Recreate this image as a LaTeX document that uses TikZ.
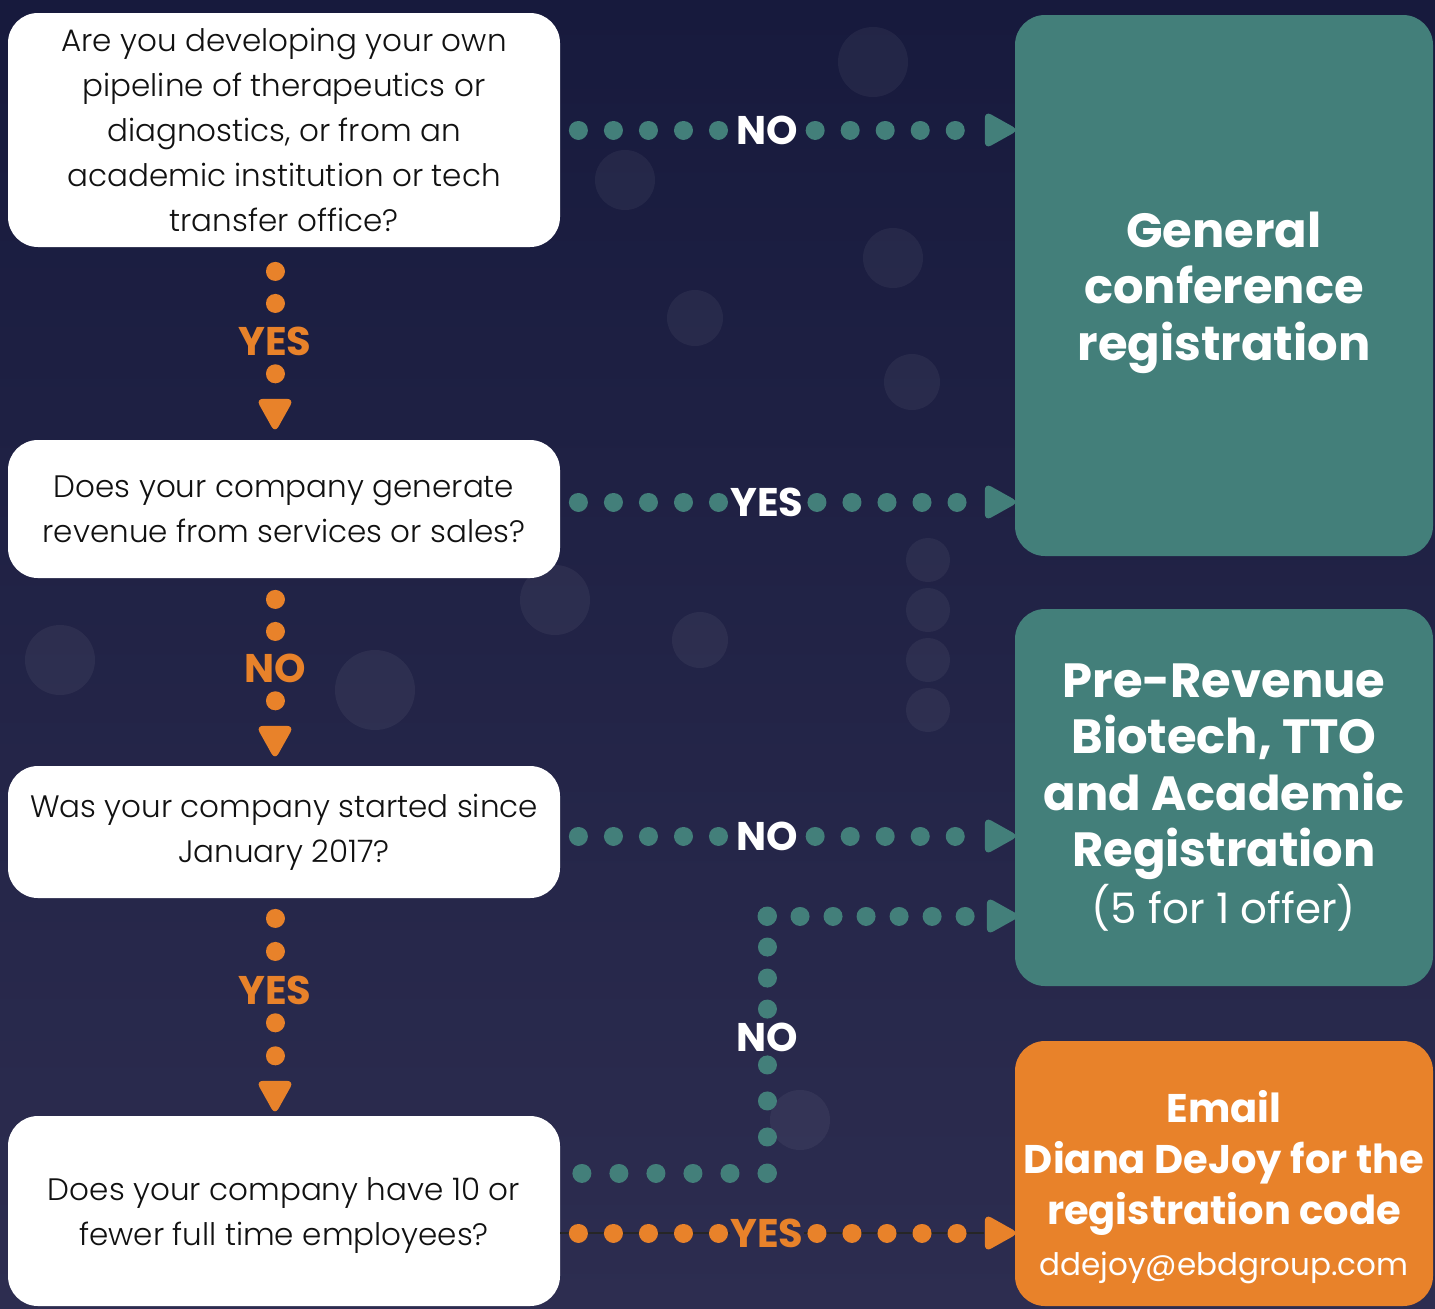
\documentclass[tikz,border=0pt]{standalone}
\usepackage{fontspec}
\setmainfont{Poppins}
\IfFontExistsTF{Poppins Light}{\newfontfamily\qfont{Poppins Light}}{\newfontfamily\qfont{Poppins}}
\usetikzlibrary{shapes.geometric}
\definecolor{navytop}{HTML}{171A3D}
\definecolor{navybot}{HTML}{2D2D50}
\definecolor{tealbox}{HTML}{437F7A}
\definecolor{orangebox}{HTML}{E8822A}
\definecolor{qtext}{HTML}{111111}

\tikzset{
  qbox/.style={fill=white, rounded corners=15pt, minimum width=276pt, inner sep=0pt,
    align=center, text=qtext, font=\qfont\fontsize{15.5}{22.5}\selectfont},
  regbox/.style={fill=tealbox, rounded corners=15pt, minimum width=209pt, inner sep=0pt,
    align=center, text=white, font=\bfseries\fontsize{24}{28.25}\selectfont},
  dotlabel/.style={inner sep=0pt, font=\bfseries\fontsize{20}{20}\selectfont},
  tealdots/.style={tealbox, line width=9.5pt, line cap=round, dash pattern=on 0.01pt off 17.5pt},
  orangedots/.style={orangebox, line width=9.5pt, line cap=round, dash pattern=on 0.01pt off 16pt},
  tiptri/.style={isosceles triangle, isosceles triangle stretches, minimum width=19pt,
    minimum height=17pt, inner sep=0pt, rounded corners=3.5pt},
  bokeh/.style={fill=white, opacity=0.05}
}

\begin{document}
\begin{tikzpicture}[x=0.5pt, y=-0.5pt]
    \useasboundingbox (0,0) rectangle (1435,1308);
    % Background
    \shade[top color=navytop, bottom color=navybot] (0,0) rectangle (1435,1308);
    \foreach \bx/\by/\br in {625/180/30, 695/318/28, 893/258/30, 912/382/28, 873/62/35,
        555/600/35, 375/690/40, 700/640/28, 928/560/22, 928/610/22, 928/660/22, 928/710/22,
        1390/510/30, 160/500/40, 60/660/35, 800/1120/30}
        \fill[bokeh] (\bx,\by) circle (\br);

    % Questions
    \node[qbox, minimum height=117pt] (q1) at (284,130) {Are you developing your own\\pipeline of therapeutics or\\diagnostics, or from an\\academic institution or tech\\transfer office?};
    \node[qbox, minimum height=69pt] (q2) at (284,509) {Does your company generate\\revenue from services or sales?};
    \node[qbox, minimum height=66pt] (q3) at (284,832) {Was your company started since\\January 2017?};
    \node[qbox, minimum height=95pt] (q4) at (284,1211) {\rule{0pt}{16pt}Does your company have 10 or\\fewer full time employees?};

    % Outcomes
    \node[regbox, minimum height=270.5pt] (gen) at (1224,285.5) {\rule{0pt}{25pt}General\\conference\\registration};
    \node[regbox, minimum height=188.5pt] (pre) at (1224,797.5) {Pre-Revenue\\Biotech, TTO\\and Academic\\Registration\\{\mdseries\fontsize{21}{28}\selectfont (5 for 1 offer)}};
    \node[regbox, fill=orangebox, minimum height=132.5pt, font=\bfseries\fontsize{20}{25.5}\selectfont] (email) at (1224,1173.5) {\rule{0pt}{30pt}Email\\Diana DeJoy for the\\registration code\\{\mdseries\fontsize{15.5}{25.5}\selectfont ddejoy@ebdgroup.com}};

    % Answer labels
    \node[dotlabel, text=white] (no1) at (767,130) {NO};
    \node[dotlabel, text=white] (yes2) at (767,502) {YES};
    \node[dotlabel, text=white] (no3) at (767,836) {NO};
    \node[dotlabel, text=white] (no4) at (767,1037) {NO};
    \node[dotlabel, text=orangebox] (yes5) at (767,1233) {YES};
    \node[dotlabel, text=orangebox] (yes1) at (275,341) {YES};
    \node[dotlabel, text=orangebox] (no2) at (275,668) {NO};
    \node[dotlabel, text=orangebox] (yes3) at (275,990) {YES};

    % Arrow heads
    \node[tiptri, fill=tealbox] (t1) at (996,130) {};
    \node[tiptri, fill=tealbox] (t2) at (996,502) {};
    \node[tiptri, fill=tealbox] (t3) at (996,836) {};
    \node[tiptri, fill=tealbox] (t4) at (998,916) {};
    \node[tiptri, fill=orangebox] (t5) at (996,1233) {};
    \node[tiptri, fill=orangebox, shape border rotate=270] (d1) at (275,410) {};
    \node[tiptri, fill=orangebox, shape border rotate=270] (d2) at (275,737) {};
    \node[tiptri, fill=orangebox, shape border rotate=270] (d3) at (275,1092) {};
    \coordinate (c4) at (767,916);
    \coordinate (c5) at (767,1173);

    % Dotted connectors
    \draw[tealdots, shorten <=9pt] (q1.east |- no1) -- (no1);
    \draw[tealdots, shorten <=8.5pt] (no1) -- (t1);
    \draw[tealdots, shorten <=9pt] (q2.east |- yes2) -- (yes2);
    \draw[tealdots, shorten <=6.5pt] (yes2) -- (t2);
    \draw[tealdots, shorten <=9pt] (q3.east |- no3) -- (no3);
    \draw[tealdots, shorten <=8.5pt] (no3) -- (t3);
    \draw[tealdots, dash pattern=on 0.01pt off 15.5pt] (c4) -- (no4);
    \draw[tealdots, dash pattern=on 0.01pt off 16.5pt] (c4) -- (t4);
    \draw[tealdots, dash pattern=on 0.01pt off 18pt] (c5) -- (no4);
    \draw[tealdots, dash pattern=on 0.01pt off 18.5pt] (c5) -- (q4.east |- c5);
    \draw[black!85, line width=0.6pt] (q4.east |- yes5) -- (yes5);
    \draw[black!85, line width=0.6pt] (yes5) -- (t5);
    \draw[orangedots, dash pattern=on 0.01pt off 17.5pt, shorten <=9pt] (q4.east |- yes5) -- (yes5);
    \draw[orangedots, dash pattern=on 0.01pt off 17.5pt, shorten <=6.5pt] (yes5) -- (t5);
    \draw[orangedots, shorten <=12pt] (q1.south -| yes1) -- (yes1);
    \draw[orangedots, shorten <=9pt] (yes1) -- (d1);
    \draw[orangedots, shorten <=10.5pt] (q2.south -| no2) -- (no2);
    \draw[orangedots, shorten <=9pt] (no2) -- (d2);
    \draw[orangedots, dash pattern=on 0.01pt off 16.5pt, shorten <=10pt] (q3.south -| yes3) -- (yes3);
    \draw[orangedots, dash pattern=on 0.01pt off 16.5pt, shorten <=9pt] (yes3) -- (d3);
\end{tikzpicture}
\end{document}
